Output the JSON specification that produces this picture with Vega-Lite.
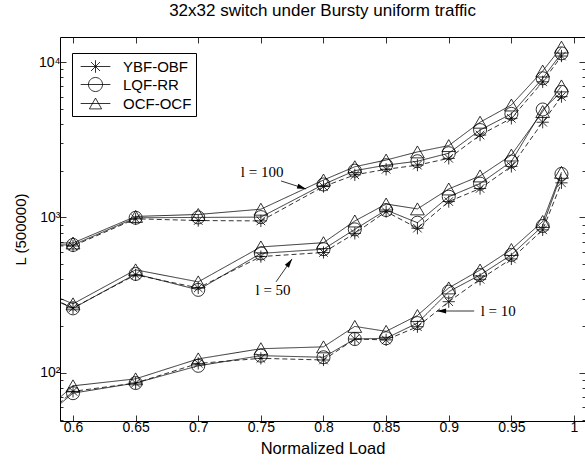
{
  "$schema": "https://vega.github.io/schema/vega-lite/v6.json",
  "width": 525,
  "height": 384,
  "autosize": {"type": "none"},
  "padding": {"left": 60, "top": 37, "right": 0, "bottom": 44},
  "background": "white",
  "title": {"text": "32x32 switch under Bursty uniform traffic", "font": "Liberation Sans", "fontSize": 17, "fontWeight": "normal", "color": "black", "anchor": "middle", "offset": 17},
  "config": {"view": {"stroke": null}, "font": "Liberation Sans"},
  "datasets": {
    "main": [
      {"l":100,"series":"OCF-OCF","load":0.55,"L":690},{"l":100,"series":"LQF-RR","load":0.55,"L":670},{"l":100,"series":"YBF-OBF","load":0.55,"L":660},
      {"l":100,"series":"OCF-OCF","load":0.6,"L":685},{"l":100,"series":"LQF-RR","load":0.6,"L":665},{"l":100,"series":"YBF-OBF","load":0.6,"L":655},
      {"l":100,"series":"OCF-OCF","load":0.65,"L":1015},{"l":100,"series":"LQF-RR","load":0.65,"L":995},{"l":100,"series":"YBF-OBF","load":0.65,"L":980},
      {"l":100,"series":"OCF-OCF","load":0.7,"L":1045},{"l":100,"series":"LQF-RR","load":0.7,"L":1000},{"l":100,"series":"YBF-OBF","load":0.7,"L":955},
      {"l":100,"series":"OCF-OCF","load":0.75,"L":1130},{"l":100,"series":"LQF-RR","load":0.75,"L":1005},{"l":100,"series":"YBF-OBF","load":0.75,"L":950},
      {"l":100,"series":"OCF-OCF","load":0.8,"L":1740},{"l":100,"series":"LQF-RR","load":0.8,"L":1630},{"l":100,"series":"YBF-OBF","load":0.8,"L":1580},
      {"l":100,"series":"OCF-OCF","load":0.825,"L":2120},{"l":100,"series":"LQF-RR","load":0.825,"L":2000},{"l":100,"series":"YBF-OBF","load":0.825,"L":1880},
      {"l":100,"series":"OCF-OCF","load":0.85,"L":2340},{"l":100,"series":"LQF-RR","load":0.85,"L":2170},{"l":100,"series":"YBF-OBF","load":0.85,"L":2040},
      {"l":100,"series":"OCF-OCF","load":0.875,"L":2640},{"l":100,"series":"LQF-RR","load":0.875,"L":2300},{"l":100,"series":"YBF-OBF","load":0.875,"L":2170},
      {"l":100,"series":"OCF-OCF","load":0.9,"L":2900},{"l":100,"series":"LQF-RR","load":0.9,"L":2590},{"l":100,"series":"YBF-OBF","load":0.9,"L":2400},
      {"l":100,"series":"OCF-OCF","load":0.925,"L":4100},{"l":100,"series":"LQF-RR","load":0.925,"L":3650},{"l":100,"series":"YBF-OBF","load":0.925,"L":3390},
      {"l":100,"series":"OCF-OCF","load":0.95,"L":5290},{"l":100,"series":"LQF-RR","load":0.95,"L":4640},{"l":100,"series":"YBF-OBF","load":0.95,"L":4340},
      {"l":100,"series":"OCF-OCF","load":0.975,"L":8750},{"l":100,"series":"LQF-RR","load":0.975,"L":7860},{"l":100,"series":"YBF-OBF","load":0.975,"L":7460},
      {"l":100,"series":"OCF-OCF","load":0.99,"L":12470},{"l":100,"series":"LQF-RR","load":0.99,"L":11370},{"l":100,"series":"YBF-OBF","load":0.99,"L":10930},
      {"l":50,"series":"OCF-OCF","load":0.55,"L":410},{"l":50,"series":"LQF-RR","load":0.55,"L":395},{"l":50,"series":"YBF-OBF","load":0.55,"L":395},
      {"l":50,"series":"OCF-OCF","load":0.6,"L":278},{"l":50,"series":"LQF-RR","load":0.6,"L":260},{"l":50,"series":"YBF-OBF","load":0.6,"L":262},
      {"l":50,"series":"OCF-OCF","load":0.65,"L":460},{"l":50,"series":"LQF-RR","load":0.65,"L":433},{"l":50,"series":"YBF-OBF","load":0.65,"L":427},
      {"l":50,"series":"OCF-OCF","load":0.7,"L":385},{"l":50,"series":"LQF-RR","load":0.7,"L":342},{"l":50,"series":"YBF-OBF","load":0.7,"L":352},
      {"l":50,"series":"OCF-OCF","load":0.75,"L":646},{"l":50,"series":"LQF-RR","load":0.75,"L":587},{"l":50,"series":"YBF-OBF","load":0.75,"L":560},
      {"l":50,"series":"OCF-OCF","load":0.8,"L":688},{"l":50,"series":"LQF-RR","load":0.8,"L":625},{"l":50,"series":"YBF-OBF","load":0.8,"L":595},
      {"l":50,"series":"OCF-OCF","load":0.825,"L":949},{"l":50,"series":"LQF-RR","load":0.825,"L":838},{"l":50,"series":"YBF-OBF","load":0.825,"L":790},
      {"l":50,"series":"OCF-OCF","load":0.85,"L":1220},{"l":50,"series":"LQF-RR","load":0.85,"L":1116},{"l":50,"series":"YBF-OBF","load":0.85,"L":1090},
      {"l":50,"series":"OCF-OCF","load":0.875,"L":1135},{"l":50,"series":"LQF-RR","load":0.875,"L":925},{"l":50,"series":"YBF-OBF","load":0.875,"L":853},
      {"l":50,"series":"OCF-OCF","load":0.9,"L":1525},{"l":50,"series":"LQF-RR","load":0.9,"L":1360},{"l":50,"series":"YBF-OBF","load":0.9,"L":1265},
      {"l":50,"series":"OCF-OCF","load":0.925,"L":1850},{"l":50,"series":"LQF-RR","load":0.925,"L":1650},{"l":50,"series":"YBF-OBF","load":0.925,"L":1535},
      {"l":50,"series":"OCF-OCF","load":0.95,"L":2520},{"l":50,"series":"LQF-RR","load":0.95,"L":2290},{"l":50,"series":"YBF-OBF","load":0.95,"L":2130},
      {"l":50,"series":"OCF-OCF","load":0.975,"L":4800},{"l":50,"series":"LQF-RR","load":0.975,"L":4950},{"l":50,"series":"YBF-OBF","load":0.975,"L":4100},
      {"l":50,"series":"OCF-OCF","load":0.99,"L":7020},{"l":50,"series":"LQF-RR","load":0.99,"L":6430},{"l":50,"series":"YBF-OBF","load":0.99,"L":5990},
      {"l":10,"series":"OCF-OCF","load":0.55,"L":36},{"l":10,"series":"LQF-RR","load":0.55,"L":34},{"l":10,"series":"YBF-OBF","load":0.55,"L":34},
      {"l":10,"series":"OCF-OCF","load":0.6,"L":82.5},{"l":10,"series":"LQF-RR","load":0.6,"L":74},{"l":10,"series":"YBF-OBF","load":0.6,"L":76},
      {"l":10,"series":"OCF-OCF","load":0.65,"L":91.5},{"l":10,"series":"LQF-RR","load":0.65,"L":86},{"l":10,"series":"YBF-OBF","load":0.65,"L":86},
      {"l":10,"series":"OCF-OCF","load":0.7,"L":123},{"l":10,"series":"LQF-RR","load":0.7,"L":111},{"l":10,"series":"YBF-OBF","load":0.7,"L":115},
      {"l":10,"series":"OCF-OCF","load":0.75,"L":143},{"l":10,"series":"LQF-RR","load":0.75,"L":129},{"l":10,"series":"YBF-OBF","load":0.75,"L":124},
      {"l":10,"series":"OCF-OCF","load":0.8,"L":147},{"l":10,"series":"LQF-RR","load":0.8,"L":126},{"l":10,"series":"YBF-OBF","load":0.8,"L":121},
      {"l":10,"series":"OCF-OCF","load":0.825,"L":199},{"l":10,"series":"LQF-RR","load":0.825,"L":165},{"l":10,"series":"YBF-OBF","load":0.825,"L":165},
      {"l":10,"series":"OCF-OCF","load":0.85,"L":185},{"l":10,"series":"LQF-RR","load":0.85,"L":167},{"l":10,"series":"YBF-OBF","load":0.85,"L":163},
      {"l":10,"series":"OCF-OCF","load":0.875,"L":234},{"l":10,"series":"LQF-RR","load":0.875,"L":209},{"l":10,"series":"YBF-OBF","load":0.875,"L":198},
      {"l":10,"series":"OCF-OCF","load":0.9,"L":352},{"l":10,"series":"LQF-RR","load":0.9,"L":333},{"l":10,"series":"YBF-OBF","load":0.9,"L":287},
      {"l":10,"series":"OCF-OCF","load":0.925,"L":459},{"l":10,"series":"LQF-RR","load":0.925,"L":426},{"l":10,"series":"YBF-OBF","load":0.925,"L":400},
      {"l":10,"series":"OCF-OCF","load":0.95,"L":622},{"l":10,"series":"LQF-RR","load":0.95,"L":574},{"l":10,"series":"YBF-OBF","load":0.95,"L":541},
      {"l":10,"series":"OCF-OCF","load":0.975,"L":942},{"l":10,"series":"LQF-RR","load":0.975,"L":881},{"l":10,"series":"YBF-OBF","load":0.975,"L":832},
      {"l":10,"series":"OCF-OCF","load":0.99,"L":1950},{"l":10,"series":"LQF-RR","load":0.99,"L":1905},{"l":10,"series":"YBF-OBF","load":0.99,"L":1670}
    ],
    "ann": [
      {"label":"l = 100","tx":0.751,"ty":1962,"x1":0.7661,"y1":1717,"x2":0.7861,"y2":1525},
      {"label":"l = 50","tx":0.7597,"ty":342,"x1":0.7621,"y1":385,"x2":0.7749,"y2":541},
      {"label":"l = 10","tx":0.9395,"ty":250,"x1":0.9203,"y1":250,"x2":0.8907,"y2":250}
    ]
  },
  "resolve": {"scale": {"shape": "independent"}, "axis": {"x": "independent", "y": "independent"}},
  "layer": [
    {
      "data": {"name": "main"},
      "mark": {"type": "line", "stroke": "black", "strokeWidth": 0.8, "clip": true},
      "encoding": {
        "x": {"field": "load", "type": "quantitative",
          "scale": {"domain": [0.58962, 1.00879], "nice": false, "zero": false},
          "axis": {"orient": "bottom", "values": [0.6,0.65,0.7,0.75,0.8,0.85,0.9,0.95,1], "format": "~g",
            "labelFont": "Liberation Sans", "labelFontSize": 14, "labelColor": "black", "labelPadding": 5, "labelFlush": false, "labelOverlap": false,
            "tickColor": "black", "tickSize": -6, "tickWidth": 0.8, "domainColor": "black", "domainWidth": 1, "grid": false,
            "title": "Normalized Load", "titleFont": "Liberation Sans", "titleFontSize": 16.5, "titleFontWeight": "normal", "titleColor": "black", "titlePadding": 6}},
        "y": {"field": "L", "type": "quantitative",
          "scale": {"type": "log", "domain": [49, 14490], "nice": false},
          "axis": {"orient": "left", "values": [50,60,70,80,90,100,200,300,400,500,600,700,800,900,1000,2000,3000,4000,5000,6000,7000,8000,9000,10000],
            "labelExpr": "datum.value == 100 ? '10²' : datum.value == 1000 ? '10³' : datum.value == 10000 ? '10⁴' : ''",
            "labelFont": "Liberation Sans", "labelFontSize": 14, "labelColor": "black", "labelPadding": 6, "labelOverlap": false,
            "tickColor": "black", "tickWidth": 0.8,
            "tickSize": {"condition": {"test": "datum.value == 100 || datum.value == 1000 || datum.value == 10000", "value": -6}, "value": -3},
            "domainColor": "black", "domainWidth": 1, "grid": false,
            "title": "L (500000)", "titleFont": "Liberation Sans", "titleFontSize": 15, "titleFontWeight": "normal", "titleColor": "black", "titlePadding": 10}},
        "detail": {"field": "l", "type": "nominal"},
        "strokeDash": {"field": "series", "type": "nominal",
          "scale": {"domain": ["YBF-OBF", "LQF-RR", "OCF-OCF"], "range": [[5, 3], [1, 0], [1, 0]]}, "legend": null}
      }
    },
    {
      "data": {"name": "main"},
      "mark": {"type": "point", "filled": false, "stroke": "black", "strokeWidth": 0.8, "opacity": 1, "clip": true},
      "encoding": {
        "x": {"field": "load", "type": "quantitative",
          "axis": {"orient": "top", "values": [0.6,0.65,0.7,0.75,0.8,0.85,0.9,0.95,1], "labels": false, "tickColor": "black", "tickSize": -6, "tickWidth": 0.8, "domainColor": "black", "domainWidth": 1, "grid": false, "title": null}},
        "y": {"field": "L", "type": "quantitative",
          "axis": {"orient": "right", "values": [50,60,70,80,90,100,200,300,400,500,600,700,800,900,1000,2000,3000,4000,5000,6000,7000,8000,9000,10000], "labels": false,
            "tickColor": "black", "tickWidth": 0.8,
            "tickSize": {"condition": {"test": "datum.value == 100 || datum.value == 1000 || datum.value == 10000", "value": -6}, "value": -3},
            "domain": false, "grid": false, "title": null}},
        "shape": {"field": "series", "type": "nominal",
          "scale": {"domain": ["YBF-OBF", "LQF-RR", "OCF-OCF"], "range": ["M-1,0L1,0M0,-1L0,1M-0.7,-0.7L0.7,0.7M-0.7,0.7L0.7,-0.7", "circle", "triangle-up"]}, "legend": null},
        "size": {"field": "series", "type": "nominal",
          "scale": {"domain": ["YBF-OBF", "LQF-RR", "OCF-OCF"], "range": [150, 190, 150]}, "legend": null}
      }
    },
    {
      "data": {"name": "main"},
      "transform": [{"filter": "datum.load > 5"}],
      "mark": {"type": "point", "filled": false, "stroke": "black", "strokeWidth": 0.8, "opacity": 1},
      "encoding": {
        "x": {"field": "load", "type": "quantitative", "axis": null},
        "y": {"field": "L", "type": "quantitative", "axis": null},
        "shape": {"field": "series", "type": "nominal",
          "scale": {"domain": ["YBF-OBF", "LQF-RR", "OCF-OCF"],
            "range": ["M-1.65,0L1.65,0M0,-0.7L0,0.7M-0.5,-0.5L0.5,0.5M-0.5,0.5L0.5,-0.5",
                      "M-1.65,0L1.65,0M0.78,0A0.78,0.78 0 1,1 -0.78,0A0.78,0.78 0 1,1 0.78,0",
                      "M-1.65,0L1.65,0M0,-0.6L0.68,0.6L-0.68,0.6Z"]},
          "legend": {"orient": "none", "legendX": 12, "legendY": 16, "title": null, "direction": "vertical",
            "strokeColor": "black", "fillColor": "white", "padding": 4, "cornerRadius": 0,
            "labelFont": "Liberation Sans", "labelFontSize": 15, "labelColor": "black", "labelOffset": 18, "symbolOffset": 10,
            "symbolSize": 324, "symbolStrokeColor": "black", "symbolStrokeWidth": 0.8, "symbolFillColor": "transparent", "symbolOpacity": 1, "rowPadding": 0}}
      }
    },
    {
      "data": {"name": "ann"},
      "mark": {"type": "text", "font": "Liberation Serif", "fontSize": 15, "color": "black", "align": "center", "baseline": "middle"},
      "encoding": {
        "x": {"field": "tx", "type": "quantitative", "axis": null},
        "y": {"field": "ty", "type": "quantitative", "axis": null},
        "text": {"field": "label"}
      }
    },
    {
      "data": {"name": "ann"},
      "mark": {"type": "rule", "stroke": "black", "strokeWidth": 0.8},
      "encoding": {
        "x": {"field": "x1", "type": "quantitative", "axis": null},
        "y": {"field": "y1", "type": "quantitative", "axis": null},
        "x2": {"field": "x2"},
        "y2": {"field": "y2"}
      }
    },
    {
      "data": {"name": "ann"},
      "transform": [{"filter": "datum.label == 'l = 100'"}],
      "mark": {"type": "point", "filled": true, "fill": "black", "stroke": null, "opacity": 1, "size": 100, "angle": 18, "shape": "M0,0L-1.8,-0.5L-1.8,0.5Z"},
      "encoding": {
        "x": {"field": "x2", "type": "quantitative", "axis": null},
        "y": {"field": "y2", "type": "quantitative", "axis": null}
      }
    },
    {
      "data": {"name": "ann"},
      "transform": [{"filter": "datum.label == 'l = 50'"}],
      "mark": {"type": "point", "filled": true, "fill": "black", "stroke": null, "opacity": 1, "size": 100, "angle": 305, "shape": "M0,0L-1.8,-0.5L-1.8,0.5Z"},
      "encoding": {
        "x": {"field": "x2", "type": "quantitative", "axis": null},
        "y": {"field": "y2", "type": "quantitative", "axis": null}
      }
    },
    {
      "data": {"name": "ann"},
      "transform": [{"filter": "datum.label == 'l = 10'"}],
      "mark": {"type": "point", "filled": true, "fill": "black", "stroke": null, "opacity": 1, "size": 100, "angle": 180, "shape": "M0,0L-1.8,-0.5L-1.8,0.5Z"},
      "encoding": {
        "x": {"field": "x2", "type": "quantitative", "axis": null},
        "y": {"field": "y2", "type": "quantitative", "axis": null}
      }
    }
  ]
}
